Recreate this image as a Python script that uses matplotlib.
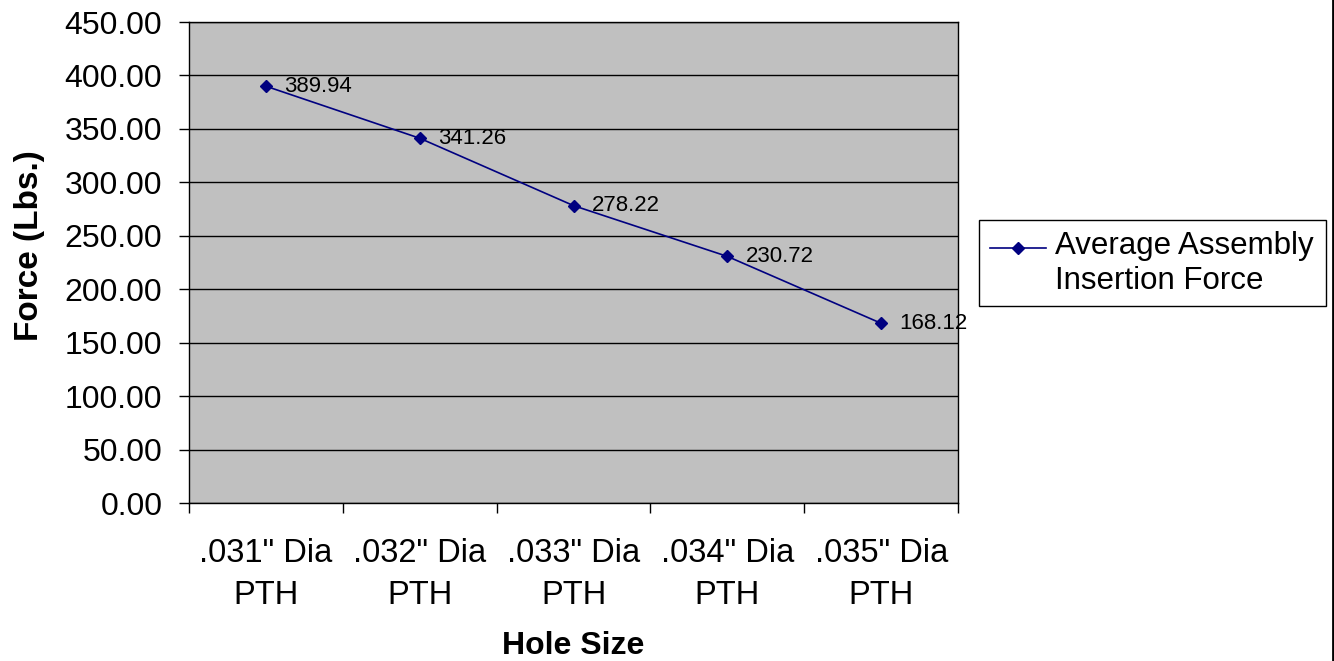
import matplotlib
matplotlib.use("Agg")
import matplotlib.pyplot as plt
from matplotlib.lines import Line2D
from matplotlib.patches import Rectangle

plt.rcParams['font.family'] = ['Liberation Sans', 'DejaVu Sans']

hole_sizes = ['.031" Dia\nPTH', '.032" Dia\nPTH', '.033" Dia\nPTH', '.034" Dia\nPTH', '.035" Dia\nPTH']
insertion_force = [389.94, 341.26, 278.22, 230.72, 168.12]
series_name = 'Average Assembly\nInsertion Force'

navy = '#000080'

fig = plt.figure(figsize=(13.34, 6.61), dpi=100)
ax = fig.add_axes([0.1417, 0.2390, 0.5765, 0.7277])
ax.set_facecolor('#C0C0C0')

x = [i + 0.5 for i in range(len(hole_sizes))]
ax.plot(x, insertion_force, color=navy, lw=1.2, marker='D', markersize=6.5,
        markerfacecolor=navy, markeredgecolor=navy)

for xi, v in zip(x, insertion_force):
    ax.annotate(f'{v:.2f}', (xi, v), xytext=(13, 0), textcoords='offset points',
                ha='left', va='center', fontsize=16, color='black')

ax.set_xlim(0, len(hole_sizes))
ax.set_ylim(0, 450)
ax.set_yticks(range(0, 451, 50))
ax.set_yticklabels([f'{t:.2f}' for t in range(0, 451, 50)])
ax.set_xticks(range(len(hole_sizes) + 1))
ax.set_xticklabels([])
ax.set_xticks(x, minor=True)
ax.set_xticklabels(hole_sizes, minor=True, linespacing=1.45)
ax.tick_params(axis='x', which='minor', length=0, pad=25, labelsize=23.5)
ax.tick_params(axis='x', which='major', length=7.2, width=1, direction='out')
ax.tick_params(axis='y', length=7.2, width=1, direction='out', pad=12, labelsize=23)

ax.grid(axis='y', color='black', lw=1)
ax.set_axisbelow(True)
for s in ax.spines.values():
    s.set_color('black')
    s.set_linewidth(1)

ax.set_xlabel('Hole Size', fontsize=23, fontweight='bold')
ax.xaxis.set_label_coords(0.5, -0.267)
ax.set_ylabel('Force (Lbs.)', fontsize=24, fontweight='bold')
ax.yaxis.set_label_coords(-0.187, 0.536)

# legend box drawn by hand so the marker sits on the first text line
W, H = 1334, 661
fig.add_artist(Rectangle((979 / W, 1 - 306 / H), 347 / W, 86 / H, transform=fig.transFigure,
                         facecolor='white', edgecolor='black', lw=1))
fig.add_artist(Line2D([990 / W, 1046 / W], [1 - 248 / H] * 2, transform=fig.transFigure,
                      color=navy, lw=1.2))
fig.add_artist(Line2D([1018 / W], [1 - 248 / H], transform=fig.transFigure, marker='D',
                      markersize=6.5, color=navy))
fig.text(1055 / W, 1 - 231 / H, series_name, ha='left', va='top', fontsize=22.5,
         linespacing=1.2)

fig.add_artist(Line2D([1332.5 / W] * 2, [0, 1], transform=fig.transFigure, color='black', lw=2))

fig.savefig('out.png', dpi=100)
